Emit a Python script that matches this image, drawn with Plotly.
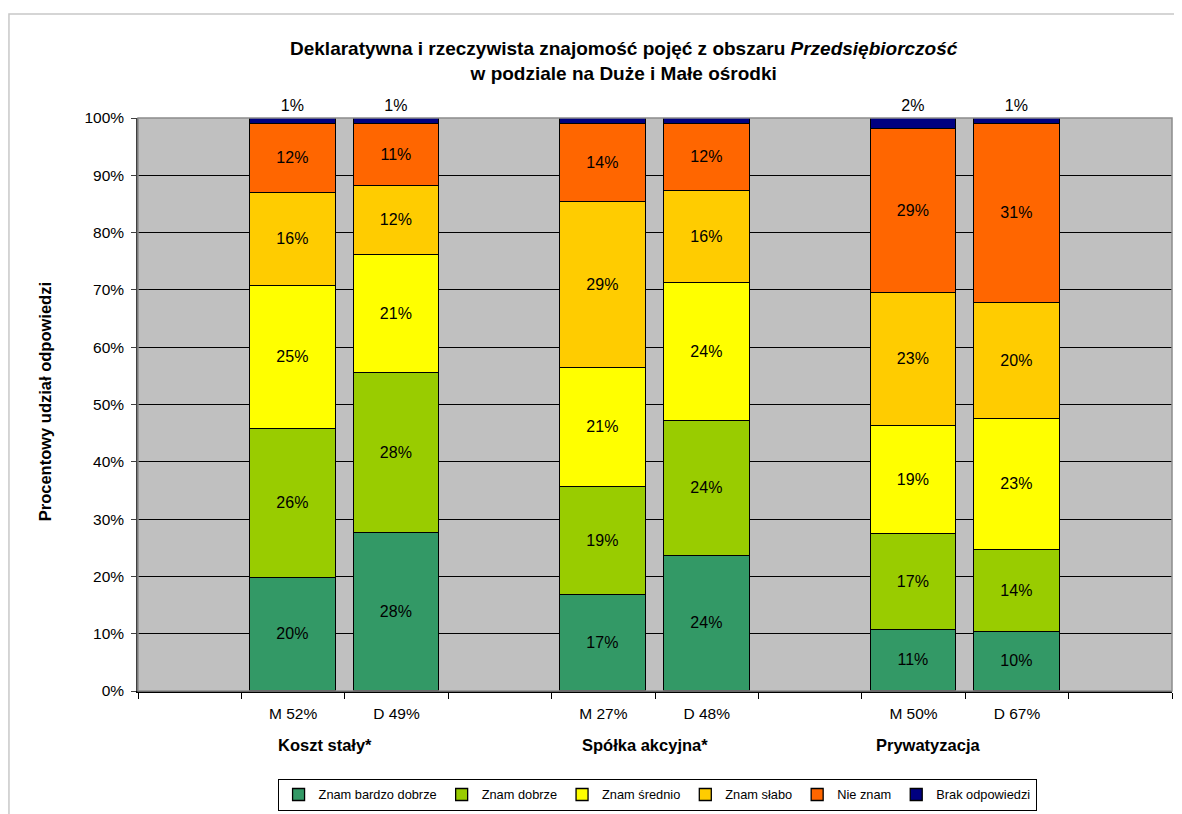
import plotly.graph_objects as go

# ---- data ----
bar_labels = ["M 52%", "D 49%", "M 27%", "D 48%", "M 50%", "D 67%"]
bar_positions = [1.5, 2.5, 4.5, 5.5, 7.5, 8.5]
groups = ["Koszt stały*", "Spółka akcyjna*", "Prywatyzacja"]
group_positions = [1.81, 4.90, 7.64]

series_names = ["Znam bardzo dobrze", "Znam dobrze", "Znam średnio",
                "Znam słabo", "Nie znam", "Brak odpowiedzi"]
znam_bardzo_dobrze = [19.7, 27.6, 16.8, 23.6, 10.7, 10.3]
znam_dobrze = [26.0, 27.9, 18.8, 23.6, 16.7, 14.3]
znam_srednio = [24.9, 20.6, 20.8, 24.0, 18.8, 22.9]
znam_slabo = [16.3, 12.1, 28.9, 16.1, 23.3, 20.2]
nie_znam = [12.0, 10.8, 13.7, 11.7, 28.6, 31.25]
brak_odpowiedzi = [1.1, 1.0, 1.0, 1.0, 1.9, 1.05]
series_values = [znam_bardzo_dobrze, znam_dobrze, znam_srednio,
                 znam_slabo, nie_znam, brak_odpowiedzi]
colors = ["#339966", "#99CC00", "#FFFF00", "#FFCC00", "#FF6600", "#000080"]

y_ticks = list(range(0, 101, 10))
boundaries = list(range(0, 11))

FONT = "Liberation Sans, Arial, sans-serif"

fig = go.Figure()
for i, (name, vals, col) in enumerate(zip(series_names, series_values, colors)):
    last = i == len(series_names) - 1
    fig.add_trace(go.Bar(
        name=name, x=bar_positions, y=vals,
        width=0.83,
        marker=dict(color=col, line=dict(color="#000000", width=1.3)),
        text=[f"{round(v):.0f}%" for v in vals],
        textposition="outside" if last else "inside",
        insidetextanchor="middle",
        textangle=0,
        textfont=dict(family=FONT, size=16, color="#000000"),
        outsidetextfont=dict(family=FONT, size=16, color="#000000"),
        cliponaxis=False,
        hoverinfo="skip",
    ))

annotations = []
for g, gx in zip(groups, group_positions):
    annotations.append(dict(
        x=gx, y=-0.094, xref="x", yref="paper", text=f"<b>{g}</b>",
        showarrow=False, xanchor="center", yanchor="middle",
        font=dict(family=FONT, size=16.5, color="#000000")))
annotations.append(dict(
    x=-0.0899, y=0.504, xref="paper", yref="paper",
    text="<b>Procentowy udział odpowiedzi</b>", textangle=-90,
    showarrow=False, xanchor="center", yanchor="middle",
    font=dict(family=FONT, size=16.5, color="#000000")))
annotations.append(dict(
    x=0.470, y=1.0995, xref="paper", yref="paper",
    text="<b>Deklaratywna i rzeczywista znajomość pojęć z obszaru <i>Przedsiębiorczość</i></b>"
         "<br><b>w podziale na Duże i Małe ośrodki</b>",
    showarrow=False, xanchor="center", yanchor="middle",
    font=dict(family=FONT, size=19, color="#000000")))

shapes = [
    # chart frame
    dict(type="rect", xref="paper", yref="paper",
         x0=-0.1248, x1=1.2, y0=-0.4, y1=1.1815,
         line=dict(color="#C8C8C8", width=1.5), layer="below"),
    # plot-area border (top/right gray)
    dict(type="rect", xref="paper", yref="paper", x0=0, x1=1, y0=0, y1=1,
         line=dict(color="#8C8C8C", width=1.5), layer="above"),
]

fig.update_layout(
    width=1174, height=806,
    margin=dict(l=130, r=10, t=110, b=123, autoexpand=False),
    paper_bgcolor="#FFFFFF", plot_bgcolor="#C0C0C0",
    barmode="stack", bargap=0,
    font=dict(family=FONT, size=12, color="#000000"),
    showlegend=True,
    legend=dict(orientation="h", x=0.502, xanchor="center",
                y=-0.153, yanchor="top",
                bordercolor="#000000", borderwidth=1, bgcolor="#FFFFFF",
                font=dict(family=FONT, size=12.8, color="#000000"),
                itemwidth=30, tracegroupgap=0,
                traceorder="normal"),
    annotations=annotations,
    shapes=shapes,
)
fig.update_xaxes(
    range=[0, 10], tickmode="array", tickvals=bar_positions, ticktext=bar_labels,
    ticks="", showgrid=False, zeroline=False,
    showline=True, linecolor="#000000", linewidth=1.5,
    tickfont=dict(family=FONT, size=15.5, color="#000000"),
    ticklabelstandoff=8, automargin=False,
    minor=dict(tickmode="array", tickvals=boundaries, ticks="outside",
               ticklen=6, tickcolor="#000000", tickwidth=1, showgrid=False),
)
fig.update_yaxes(
    range=[0, 100], tickmode="array", tickvals=y_ticks,
    ticktext=[f"{v}%" for v in y_ticks],
    ticks="outside", ticklen=5, tickcolor="#404040",
    showgrid=True, gridcolor="#000000", gridwidth=1,
    zeroline=False, showline=True, linecolor="#404040", linewidth=1.5,
    tickfont=dict(family=FONT, size=15.5, color="#000000"),
    ticklabelstandoff=4, automargin=False,
)

fig.write_html("out.html")
